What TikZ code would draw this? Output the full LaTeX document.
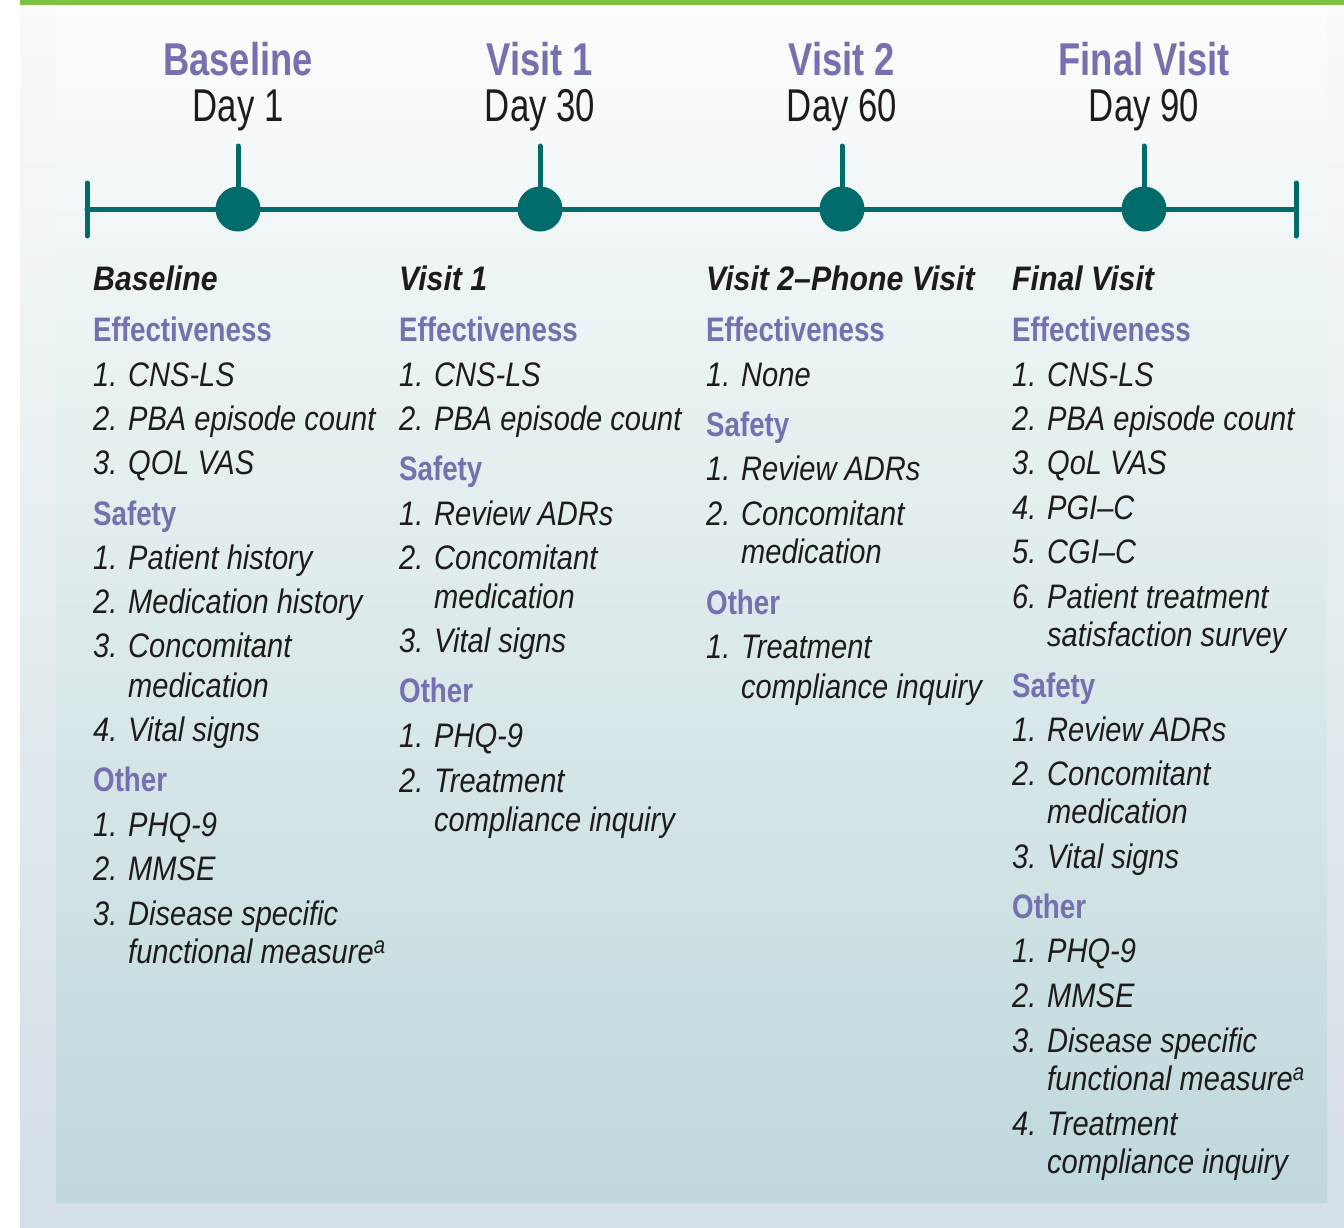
\documentclass[tikz,border=0pt]{standalone}
\usepackage{fontspec}
\setmainfont{Liberation Sans}
\newfontfamily\fTopB[FakeStretch=0.79]{Liberation Sans}
\newfontfamily\fTopR[FakeStretch=0.755]{Liberation Sans}
\newfontfamily\fCat[FakeStretch=0.815]{Liberation Sans}
\newfontfamily\fItem[FakeStretch=0.855]{Liberation Sans}
\newfontfamily\fHead[FakeStretch=0.89]{Liberation Sans}
\definecolor{teal1}{RGB}{0,107,107}
\definecolor{purp}{RGB}{117,112,176}
\definecolor{green1}{RGB}{125,193,66}
\definecolor{outtop}{RGB}{248,250,251}
\definecolor{outbot}{RGB}{210,223,229}
\definecolor{intop}{RGB}{252,253,253}
\definecolor{inbot}{RGB}{191,216,219}
\definecolor{txt}{RGB}{30,27,28}
\tikzset{
  tline/.style={draw=teal1,line width=5pt,line cap=round},
  dot/.style={circle,fill=teal1,minimum size=45pt,inner sep=0pt},
  toptitle/.style={anchor=base,inner sep=0pt,text=purp,font=\fTopB\bfseries\fontsize{46}{46}\selectfont},
  topday/.style={anchor=base,inner sep=0pt,text=txt,font=\fTopR\fontsize{46}{46}\selectfont},
  colhead/.style={anchor=base west,inner sep=0pt,text=txt,font=\fHead\bfseries\itshape\fontsize{34}{34}\selectfont},
  cat/.style={anchor=base west,inner sep=0pt,text=purp,font=\fCat\bfseries\fontsize{34}{34}\selectfont},
  item/.style={anchor=base west,inner sep=0pt,text=txt,font=\fItem\itshape\fontsize{34}{34}\selectfont},
}
\begin{document}
\begin{tikzpicture}[x=1pt,y=-1pt]
\useasboundingbox (0,0) rectangle (1344,1227);
% panels
\shade[top color=outtop,bottom color=outbot] (20,5) rectangle (1344,1227);
\shade[top color=intop,bottom color=inbot] (56,5) rectangle (1327,1202);
\fill[green1] (20,0) rectangle (1344,5);
% timeline
\coordinate (tl) at (87,209);
\coordinate (tr) at (1296,209);
\coordinate (tlT) at (87,183);
\coordinate (tlB) at (87,236);
\coordinate (trT) at (1296,183);
\coordinate (trB) at (1296,236);
\draw[tline] (tl) -- (tr);
\draw[tline] (tlT) -- (tlB);
\draw[tline] (trT) -- (trB);
\foreach \n/\x in {d1/238,d2/540,d3/842,d4/1144}{
  \coordinate (\n s) at (\x,146);
  \node[dot] (\n) at (\x,209) {};
  \draw[tline] (\n s) -- (\n);
}
% top labels
\node[toptitle] (t1) at (238,75) {Baseline};
\node[topday] (y1) at (238,121) {Day 1};
\node[toptitle] (t2) at (540,75) {Visit 1};
\node[topday] (y2) at (540,121) {Day 30};
\node[toptitle] (t3) at (842,75) {Visit 2};
\node[topday] (y3) at (842,121) {Day 60};
\node[toptitle] (t4) at (1144,75) {Final Visit};
\node[topday] (y4) at (1144,121) {Day 90};
% column 1
\node[colhead] (a0) at (93,290) {Baseline};
\node[cat] (a1) at (93,341) {Effectiveness};
\node[item] (a2) at (93,386) {1. CNS-LS};
\node[item] (a3) at (93,430) {2. PBA episode count};
\node[item] (a4) at (93,474) {3. QOL VAS};
\node[cat] (a5) at (93,525) {Safety};
\node[item] (a6) at (93,569) {1. Patient history};
\node[item] (a7) at (93,613) {2. Medication history};
\node[item] (a8) at (93,657) {3. Concomitant};
\node[item] (a9) at (128,697) {medication};
\node[item] (a10) at (93,741) {4. Vital signs};
\node[cat] (a11) at (93,791) {Other};
\node[item] (a12) at (93,836) {1. PHQ-9};
\node[item] (a13) at (93,880) {2. MMSE};
\node[item] (a14) at (93,925) {3. Disease specific};
\node[item] (a15) at (128,963) {functional measure\textsuperscript{a}};
% column 2
\node[colhead] (b0) at (399,290) {Visit 1};
\node[cat] (b1) at (399,341) {Effectiveness};
\node[item] (b2) at (399,386) {1. CNS-LS};
\node[item] (b3) at (399,430) {2. PBA episode count};
\node[cat] (b4) at (399,480) {Safety};
\node[item] (b5) at (399,525) {1. Review ADRs};
\node[item] (b6) at (399,569) {2. Concomitant};
\node[item] (b7) at (434,608) {medication};
\node[item] (b8) at (399,652) {3. Vital signs};
\node[cat] (b9) at (399,702) {Other};
\node[item] (b10) at (399,747) {1. PHQ-9};
\node[item] (b11) at (399,792) {2. Treatment};
\node[item] (b12) at (434,831) {compliance inquiry};
% column 3
\node[colhead] (c0) at (706,290) {Visit 2–Phone Visit};
\node[cat] (c1) at (706,341) {Effectiveness};
\node[item] (c2) at (706,386) {1. None};
\node[cat] (c3) at (706,436) {Safety};
\node[item] (c4) at (706,480) {1. Review ADRs};
\node[item] (c5) at (706,525) {2. Concomitant};
\node[item] (c6) at (741,563) {medication};
\node[cat] (c7) at (706,614) {Other};
\node[item] (c8) at (706,658) {1. Treatment};
\node[item] (c9) at (741,698) {compliance inquiry};
% column 4
\node[colhead] (e0) at (1012,290) {Final Visit};
\node[cat] (e1) at (1012,341) {Effectiveness};
\node[item] (e2) at (1012,386) {1. CNS-LS};
\node[item] (e3) at (1012,430) {2. PBA episode count};
\node[item] (e4) at (1012,474) {3. QoL VAS};
\node[item] (e5) at (1012,519) {4. PGI–C};
\node[item] (e6) at (1012,563) {5. CGI–C};
\node[item] (e7) at (1012,608) {6. Patient treatment};
\node[item] (e8) at (1047,646) {satisfaction survey};
\node[cat] (e9) at (1012,697) {Safety};
\node[item] (e10) at (1012,741) {1. Review ADRs};
\node[item] (e11) at (1012,785) {2. Concomitant};
\node[item] (e12) at (1047,823) {medication};
\node[item] (e13) at (1012,868) {3. Vital signs};
\node[cat] (e14) at (1012,918) {Other};
\node[item] (e15) at (1012,962) {1. PHQ-9};
\node[item] (e16) at (1012,1007) {2. MMSE};
\node[item] (e17) at (1012,1052) {3. Disease specific};
\node[item] (e18) at (1047,1090) {functional measure\textsuperscript{a}};
\node[item] (e19) at (1012,1135) {4. Treatment};
\node[item] (e20) at (1047,1173) {compliance inquiry};
\end{tikzpicture}
\end{document}
